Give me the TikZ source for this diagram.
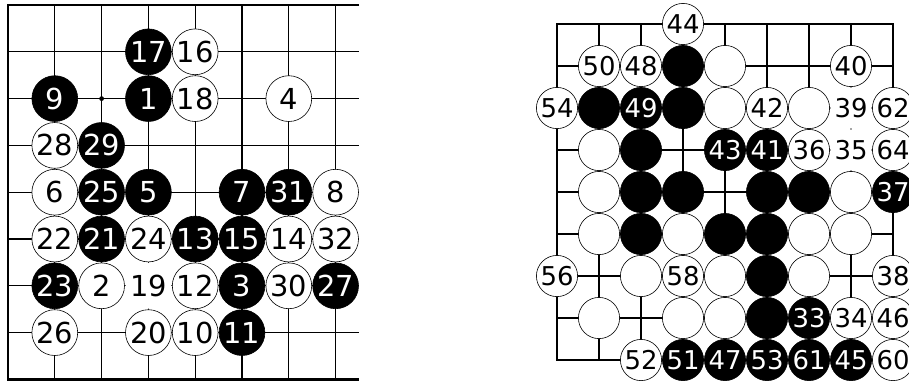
\documentclass[tikz,border=0pt]{standalone}
\usepackage{fontspec}
\setmainfont{DejaVu Sans}
\usepackage{tikz}

\tikzset{
  blk/.style={circle, inner sep=0pt, draw=black, line width=0.6bp, fill=black, text=white},
  wht/.style={circle, inner sep=0pt, draw=black, line width=0.6bp, fill=white, text=black},
  bare/.style={circle, inner sep=0pt, fill=white, text=black},
  gridline/.style={line width=1.1bp},
  edgeline/.style={line width=2.5bp},
  leftboard/.style={x=46.8bp, y=-46.8bp, every node/.append style={minimum size=45.8bp, font=\fontsize{29}{29}\selectfont}},
  rightboard/.style={x=42bp, y=-42bp, every node/.append style={minimum size=41.2bp, font=\fontsize{26}{26}\selectfont}},
}

\begin{document}
\begin{tikzpicture}[x=1bp, y=-1bp]
  \useasboundingbox (0,0) rectangle (909,383);
  \clip (0,0) rectangle (909,383);

  % left board
  \begin{scope}[shift={(8bp,-5bp)}, leftboard]
    \foreach \r in {1,...,7} \draw[gridline] (0,\r) -- (7.5,\r);
    \foreach \c in {1,...,7} \draw[gridline] (\c,0) -- (\c,8);
    \draw[edgeline] (7.5,0) -- (0,0) -- (0,8) -- (7.5,8);
    \fill (2,2) circle[radius=2.4bp];

    \foreach \c/\r/\n in {3/1/17, 1/2/9, 3/2/1, 2/3/29, 2/4/25, 3/4/5, 5/4/7, 6/4/31,
        2/5/21, 4/5/13, 5/5/15, 1/6/23, 5/6/3, 7/6/27, 5/7/11}
      \node[blk] (L-\c-\r) at (\c,\r) {\n};
    \foreach \c/\r/\n in {4/1/16, 4/2/18, 6/2/4, 1/3/28, 1/4/6, 7/4/8, 1/5/22, 3/5/24,
        6/5/14, 7/5/32, 2/6/2, 4/6/12, 6/6/30, 1/7/26, 3/7/20, 4/7/10}
      \node[wht] (L-\c-\r) at (\c,\r) {\n};
    \node[bare] (L-3-6) at (3,6) {19};
  \end{scope}

  % right board
  \begin{scope}[shift={(557bp,-24bp)}, rightboard]
    \foreach \k in {1,...,7} {
      \draw[gridline] (0,\k) -- (8,\k);
      \draw[gridline] (\k,0) -- (\k,8);
    }
    \draw[edgeline] (0,0) rectangle (8,8);

    \foreach \c/\r/\n in {3/1/, 1/2/, 2/2/49, 3/2/, 2/3/, 4/3/43, 5/3/41, 2/4/, 3/4/,
        5/4/, 6/4/, 8/4/37, 2/5/, 4/5/, 5/5/, 5/6/, 5/7/, 6/7/33,
        3/8/51, 4/8/47, 5/8/53, 6/8/61, 7/8/45}
      \node[blk] (R-\c-\r) at (\c,\r) {\n};
    \foreach \c/\r/\n in {3/0/44, 1/1/50, 2/1/48, 4/1/, 7/1/40, 0/2/54, 4/2/, 5/2/42,
        6/2/, 8/2/62, 1/3/, 6/3/36, 8/3/64, 1/4/, 7/4/, 1/5/, 3/5/, 6/5/, 7/5/,
        0/6/56, 2/6/, 3/6/58, 4/6/, 6/6/, 8/6/38, 1/7/, 3/7/, 4/7/, 7/7/34,
        8/7/46, 2/8/52, 8/8/60}
      \node[wht] (R-\c-\r) at (\c,\r) {\n};
    \node[bare] (R-7-2) at (7,2) {39};
    \node[bare] (R-7-3) at (7,3) {35};
  \end{scope}
\end{tikzpicture}
\end{document}
